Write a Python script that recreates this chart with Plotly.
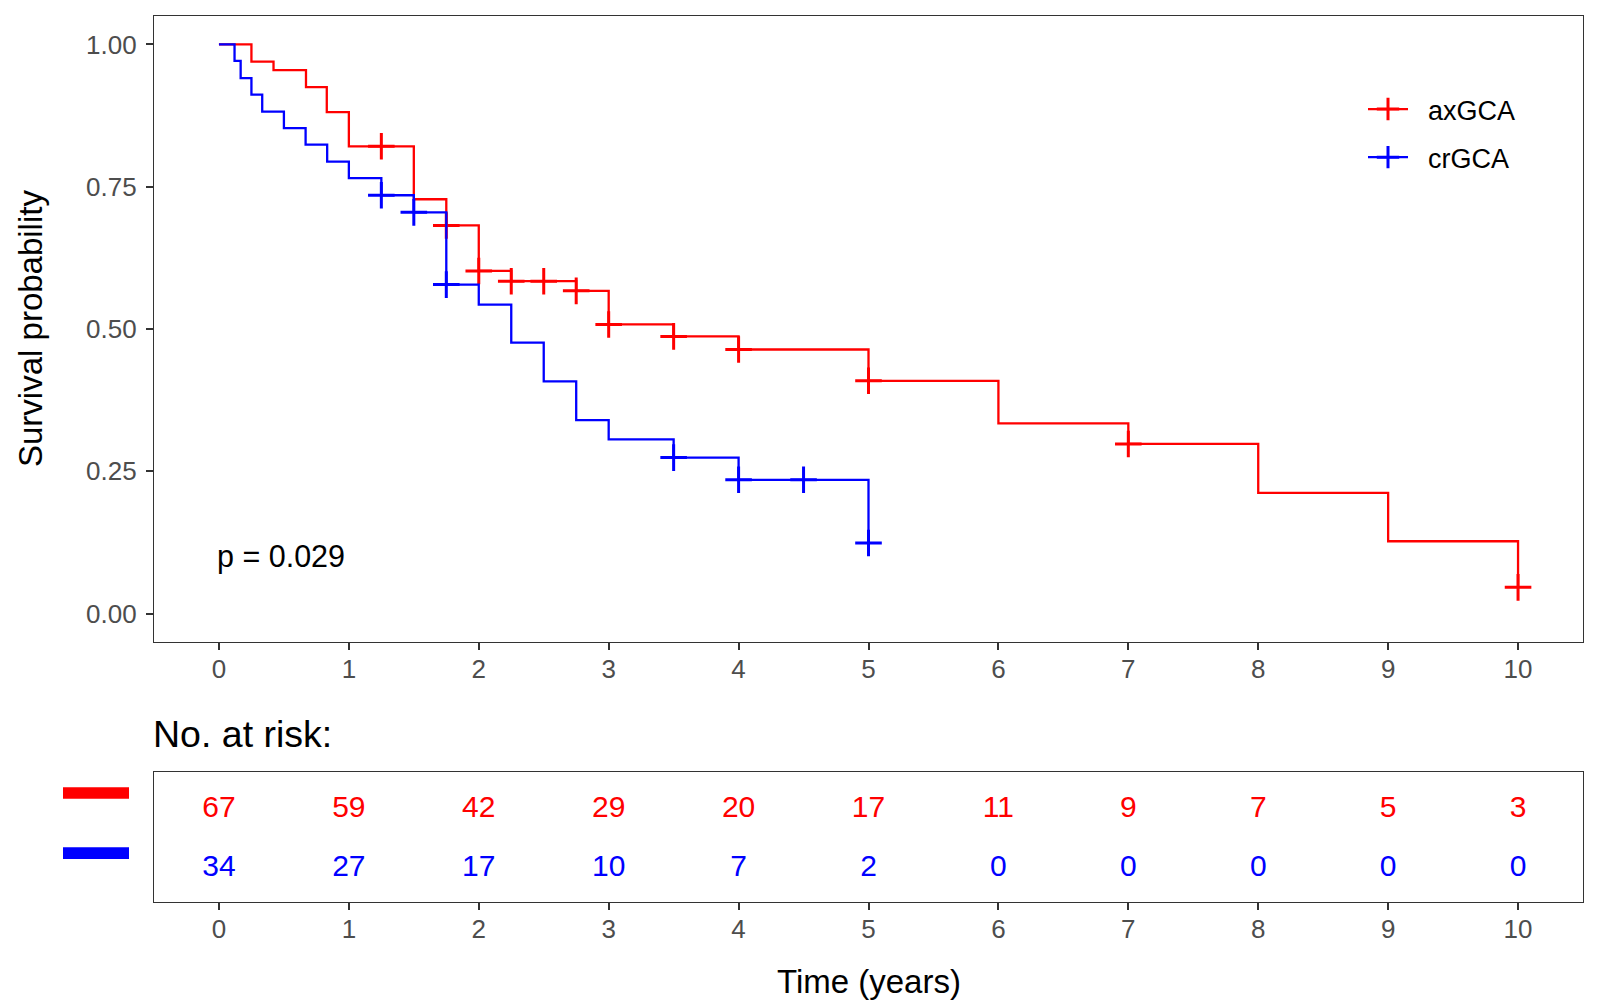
import plotly.graph_objects as go

# ---------------- data ----------------
groups = ["axGCA", "crGCA"]
colors = ["#FF0000", "#0000FF"]

# Kaplan-Meier steps (time in years, survival after the step)
ax_time = [0, 0.25, 0.42, 0.67, 0.83, 1.0, 1.25, 1.5, 1.75, 2.0, 2.25, 2.5, 2.75, 3.0, 3.5, 4.0, 5.0, 6.0, 7.0, 8.0, 9.0, 10.0]
ax_surv = [1.0, 0.970, 0.955, 0.925, 0.881, 0.821, 0.821, 0.728, 0.682, 0.602, 0.584, 0.584, 0.567, 0.508, 0.487, 0.464, 0.409, 0.334, 0.298, 0.212, 0.127, 0.046]
ax_censor = [1.25, 1.75, 2.0, 2.25, 2.5, 2.75, 3.0, 3.5, 4.0, 5.0, 7.0, 10.0]

cr_time = [0, 0.12, 0.167, 0.25, 0.333, 0.5, 0.667, 0.833, 1.0, 1.25, 1.5, 1.75, 2.0, 2.25, 2.5, 2.75, 3.0, 3.5, 4.0, 4.5, 5.0]
cr_surv = [1.0, 0.971, 0.941, 0.912, 0.882, 0.853, 0.824, 0.794, 0.765, 0.735, 0.705, 0.578, 0.543, 0.476, 0.408, 0.340, 0.306, 0.274, 0.235, 0.235, 0.124]
cr_censor = [1.25, 1.5, 1.75, 3.5, 4.0, 4.5, 5.0]

risk_times = [0, 1, 2, 3, 4, 5, 6, 7, 8, 9, 10]
risk_ax = [67, 59, 42, 29, 20, 17, 11, 9, 7, 5, 3]
risk_cr = [34, 27, 17, 10, 7, 2, 0, 0, 0, 0, 0]

y_ticks = [0, 0.25, 0.5, 0.75, 1.0]
y_ticktext = ["0.00", "0.25", "0.50", "0.75", "1.00"]
x_ticks = [0, 1, 2, 3, 4, 5, 6, 7, 8, 9, 10]
p_text = "p = 0.029"

FONT = "Liberation Sans, Arial, Helvetica, sans-serif"
W, H = 1600, 1000


def surv_at(times, survs, t):
    val = survs[0]
    for ti, si in zip(times, survs):
        if ti <= t + 1e-9:
            val = si
    return val


fig = go.Figure()

series = [(ax_time, ax_surv, ax_censor), (cr_time, cr_surv, cr_censor)]
for (tt, ss, cc), name, col in zip(series, groups, colors):
    fig.add_trace(go.Scatter(x=tt, y=ss, mode="lines", line=dict(color=col, width=2.3, shape="hv"),
                             showlegend=False, hoverinfo="skip", xaxis="x", yaxis="y"))
    fig.add_trace(go.Scatter(x=cc, y=[surv_at(tt, ss, c) for c in cc], mode="markers",
                             marker=dict(symbol="cross-thin", size=19, line=dict(color=col, width=3)),
                             showlegend=False, hoverinfo="skip", xaxis="x", yaxis="y"))
    # legend entry
    fig.add_trace(go.Scatter(x=[None], y=[None], mode="lines+markers",
                             name="\u00a0\u00a0" + name, legendgroup=name,
                             line=dict(color=col, width=2.3),
                             marker=dict(symbol="cross-thin", size=19, line=dict(color=col, width=3)),
                             xaxis="x", yaxis="y"))

# risk table
for vals, col, row in [(risk_ax, colors[0], 2), (risk_cr, colors[1], 1)]:
    fig.add_trace(go.Scatter(x=risk_times, y=[row] * len(risk_times), mode="text",
                             text=[str(v) for v in vals], textposition="middle center",
                             textfont=dict(family=FONT, size=30, color=col),
                             showlegend=False, hoverinfo="skip", xaxis="x2", yaxis="y2"))

dom_x = [154 / W, 1583 / W]
axis_common = dict(showline=True, mirror=True, linecolor="#333333", linewidth=1.2,
                   showgrid=False, zeroline=False, ticks="outside", ticklen=7,
                   tickcolor="#333333", tickwidth=1.6,
                   tickfont=dict(family=FONT, size=26, color="#4D4D4D"))

fig.update_layout(
    width=W, height=H,
    margin=dict(l=0, r=0, t=0, b=0),
    paper_bgcolor="white", plot_bgcolor="white",
    font=dict(family=FONT, color="black"),
    xaxis=dict(domain=dom_x, range=[-0.5, 10.5], tickvals=x_ticks, anchor="y", **axis_common),
    yaxis=dict(domain=[1 - 642 / H, 1 - 16 / H], range=[-0.05, 1.05], tickvals=y_ticks,
               ticktext=y_ticktext, anchor="x", **axis_common),
    xaxis2=dict(domain=dom_x, range=[-0.5, 10.5], tickvals=x_ticks, anchor="y2", **axis_common),
    yaxis2=dict(domain=[1 - 902 / H, 1 - 772 / H], range=[0.44, 2.64], anchor="x2",
                showline=True, mirror=True, linecolor="#333333", linewidth=1.2,
                showgrid=False, zeroline=False, showticklabels=False, ticks=""),
    legend=dict(x=1363 / W, y=1 - 85 / H, xanchor="left", yanchor="top",
                font=dict(family=FONT, size=27, color="black"),
                bgcolor="rgba(0,0,0,0)", tracegroupgap=10, itemwidth=40),
    showlegend=True,
)

try:
    fig.update_yaxes(ticklabelstandoff=4, selector=dict(anchor="x"))
    fig.update_xaxes(ticklabelstandoff=-3)
except Exception:
    pass

annotations = [
    dict(text="Survival probability", x=31 / W, y=1 - 329 / H, xref="paper", yref="paper",
         textangle=-90, showarrow=False, font=dict(family=FONT, size=33, color="black"),
         xanchor="center", yanchor="middle"),
    dict(text="No. at risk:", x=151 / W, y=1 - 734 / H, xref="paper", yref="paper",
         showarrow=False, font=dict(family=FONT, size=37.5, color="black"),
         xanchor="left", yanchor="middle"),
    dict(text="Time (years)", x=5, y=1 - 981 / H, xref="x2", yref="paper",
         showarrow=False, font=dict(family=FONT, size=33, color="black"),
         xanchor="center", yanchor="middle"),
    dict(text=p_text, x=0, y=0.1, xref="x", yref="y", showarrow=False, xshift=-4,
         font=dict(family=FONT, size=30.5, color="black"), xanchor="left", yanchor="middle"),
]
fig.update_layout(annotations=annotations)

# colored strata bars left of the risk table
bars = [(colors[0], 787.3, 798.7), (colors[1], 847.3, 859.0)]
for col, ytop, ybot in bars:
    fig.add_shape(type="rect", xref="paper", yref="paper", x0=63 / W, x1=129 / W,
                  y0=1 - ybot / H, y1=1 - ytop / H, fillcolor=col, line=dict(width=0))

fig.write_html("out.html", config={"displayModeBar": False},
               post_script="document.body.style.margin='0';")
